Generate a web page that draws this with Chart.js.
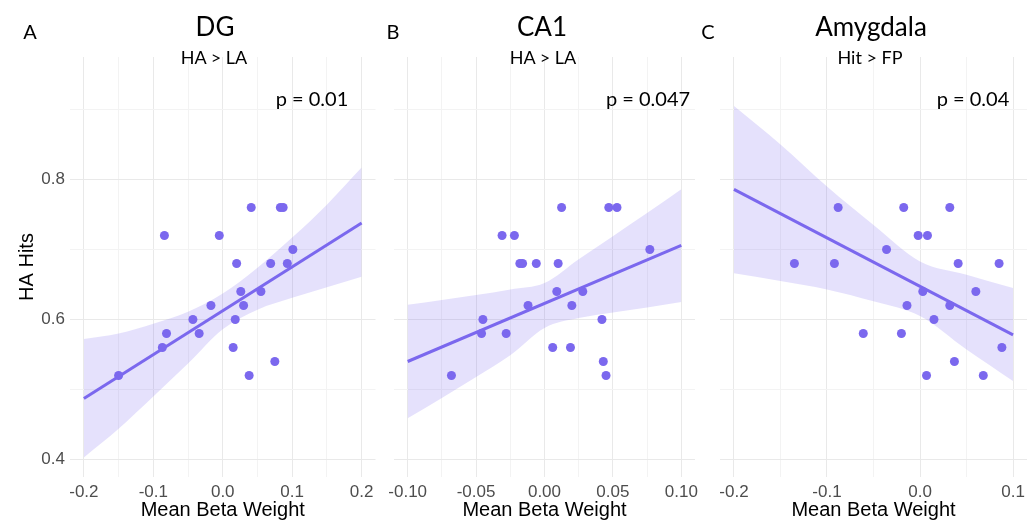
<!DOCTYPE html>
<html>
<head>
<meta charset="utf-8">
<script src="https://cdn.jsdelivr.net/npm/chart.js@4"></script>
<style>
  body { margin: 0; background: #fff; }
  #wrap { position: relative; width: 1033px; height: 529px; overflow: hidden; }
  .panel { position: absolute; top: 0; height: 529px; }
  .lbl { position: absolute; transform: translate(-50%, -50%); white-space: nowrap;
         font-family: Lato, "Open Sans", sans-serif; color: #000; }
  .big { font-size: 26px; }
  .sub { font-size: 18px; }
  .pv { font-size: 20px; }
  .tag { font-size: 20px; }
</style>
</head>
<body>
<div id="wrap">
  <div class="panel" style="left:0;width:380px"><canvas id="cA"></canvas></div>
  <div class="panel" style="left:383px;width:320px"><canvas id="cB"></canvas></div>
  <div class="panel" style="left:706px;width:327px"><canvas id="cC"></canvas></div>

  <div class="lbl tag" style="left:30px;top:31px">A</div>
  <div class="lbl big" style="left:215px;top:26px">DG</div>
  <div class="lbl sub" style="left:214px;top:57px">HA &gt; LA</div>
  <div class="lbl pv" style="left:312px;top:98px">p = 0.01</div>

  <div class="lbl tag" style="left:393px;top:31px">B</div>
  <div class="lbl big" style="left:542px;top:26px">CA1</div>
  <div class="lbl sub" style="left:543px;top:57px">HA &gt; LA</div>
  <div class="lbl pv" style="left:648px;top:98px">p = 0.047</div>

  <div class="lbl tag" style="left:708px;top:31px">C</div>
  <div class="lbl big" style="left:871px;top:26px">Amygdala</div>
  <div class="lbl sub" style="left:870px;top:57px">Hit &gt; FP</div>
  <div class="lbl pv" style="left:973px;top:98px">p = 0.04</div>
</div>

<script>
// shared y axis
var yTicks = [0.4, 0.5, 0.6, 0.7, 0.8, 0.9];
var yMajor = [0.4, 0.6, 0.8];
var yLabels = ['0.4', '0.6', '0.8'];

// DG (HA > LA)
var xA = [-0.150, -0.084, -0.087, -0.081, -0.043, -0.034, -0.017, -0.005, 0.018, 0.015, 0.020, 0.026,
          0.030, 0.041, 0.038, 0.055, 0.069, 0.075, 0.083, 0.087, 0.093, 0.101];
var yA = [0.52, 0.72, 0.56, 0.58, 0.60, 0.58, 0.62, 0.72, 0.60, 0.56, 0.68, 0.64,
          0.62, 0.76, 0.52, 0.64, 0.68, 0.54, 0.76, 0.76, 0.68, 0.70];
var fitXA = [-0.2, 0.2];
var fitYA = [0.487, 0.738];
var bandXA = [-0.2, -0.15, -0.1, -0.05, 0, 0.05, 0.1, 0.15, 0.2];
var bandHiA = [0.572, 0.580, 0.594, 0.611, 0.637, 0.674, 0.717, 0.764, 0.817];
var bandLoA = [0.403, 0.444, 0.490, 0.537, 0.586, 0.614, 0.631, 0.646, 0.661];
var xTicksA = [-0.2, -0.15, -0.1, -0.05, 0, 0.05, 0.1, 0.15, 0.2];
var xMajorA = [-0.2, -0.1, 0, 0.1, 0.2];
var xLabelsA = ['-0.2', '-0.1', '0.0', '0.1', '0.2'];

// CA1 (HA > LA)
var xB = [-0.068, -0.045, -0.046, -0.028, -0.031, -0.022, -0.018, -0.016, -0.006, -0.012, 0.006, 0.009,
          0.010, 0.0125, 0.019, 0.020, 0.028, 0.042, 0.043, 0.045, 0.047, 0.053, 0.077];
var yB = [0.52, 0.60, 0.58, 0.58, 0.72, 0.72, 0.68, 0.68, 0.68, 0.62, 0.56, 0.64,
          0.68, 0.76, 0.56, 0.62, 0.64, 0.60, 0.54, 0.52, 0.76, 0.76, 0.70];
var fitXB = [-0.1, 0.1];
var fitYB = [0.540, 0.706];
var bandXB = [-0.1, -0.075, -0.05, -0.025, 0, 0.025, 0.05, 0.075, 0.1];
var bandHiB = [0.621, 0.628, 0.635, 0.643, 0.652, 0.686, 0.719, 0.752, 0.786];
var bandLoB = [0.459, 0.488, 0.518, 0.549, 0.588, 0.602, 0.610, 0.617, 0.625];
var xTicksB = [-0.1, -0.075, -0.05, -0.025, 0, 0.025, 0.05, 0.075, 0.1];
var xMajorB = [-0.1, -0.05, 0, 0.05, 0.1];
var xLabelsB = ['-0.10', '-0.05', '0.00', '0.05', '0.10'];

// Amygdala (Hit > FP)
var xC = [-0.135, -0.092, -0.088, -0.061, -0.036, -0.020, -0.0175, -0.014, -0.002, 0.008, 0.003,
          0.007, 0.015, 0.032, 0.032, 0.037, 0.041, 0.060, 0.068, 0.085, 0.088];
var yC = [0.68, 0.68, 0.76, 0.58, 0.70, 0.58, 0.76, 0.62, 0.72, 0.72, 0.64,
          0.52, 0.60, 0.76, 0.62, 0.54, 0.68, 0.64, 0.52, 0.68, 0.56];
var fitXC = [-0.2, 0.1];
var fitYC = [0.786, 0.578];
var bandXC = [-0.2, -0.15, -0.1, -0.05, 0, 0.05, 0.1];
var bandHiC = [0.905, 0.850, 0.790, 0.735, 0.683, 0.664, 0.645];
var bandLoC = [0.666, 0.655, 0.643, 0.626, 0.605, 0.557, 0.512];
var xTicksC = [-0.2, -0.15, -0.1, -0.05, 0, 0.05, 0.1];
var xMajorC = [-0.2, -0.1, 0, 0.1];
var xLabelsC = ['-0.2', '-0.1', '0.0', '0.1'];

var purple = 'rgb(123, 104, 238)';
var bandFill = 'rgba(123, 104, 238, 0.2)';
var gridMajor = '#e9e9e9';
var gridMinor = '#f3f3f3';

function pts(xs, ys) {
  return xs.map(function(x, i) { return { x: x, y: ys[i] }; });
}

function makeChart(id, p) {
  var ctx = document.getElementById(id).getContext('2d');
  new Chart(ctx, {
    type: 'scatter',
    data: {
      datasets: [{
        data: pts(p.x, p.y),
        backgroundColor: purple,
        borderWidth: 0,
        pointRadius: 4.5,
        order: 0
      }, {
        type: 'line',
        data: pts(p.fitX, p.fitY),
        borderColor: purple,
        borderWidth: 3,
        pointRadius: 0,
        fill: false,
        order: 1
      }, {
        type: 'line',
        data: pts(p.bandX, p.bandHi),
        borderWidth: 0,
        borderColor: 'transparent',
        backgroundColor: bandFill,
        pointRadius: 0,
        cubicInterpolationMode: 'monotone',
        fill: '+1',
        order: 2
      }, {
        type: 'line',
        data: pts(p.bandX, p.bandLo),
        borderWidth: 0,
        borderColor: 'transparent',
        pointRadius: 0,
        cubicInterpolationMode: 'monotone',
        fill: false,
        order: 3
      }]
    },
    options: {
      responsive: true,
      maintainAspectRatio: false,
      animation: false,
      layout: { padding: { top: 57, right: p.padRight, left: p.padLeft, bottom: 0 } },
      plugins: { legend: { display: false }, tooltip: { enabled: false } },
      scales: {
        x: {
          type: 'linear',
          min: p.xMin,
          max: p.xMax,
          border: { display: false },
          afterBuildTicks: function(scale) {
            scale.ticks = p.xTicks.map(function(v) { return { value: v }; });
          },
          afterFit: function(scale) { scale.height = 52; },
          grid: {
            drawTicks: false,
            color: function(c) {
              return c.tick && p.xMajor.indexOf(c.tick.value) >= 0 ? gridMajor : gridMinor;
            }
          },
          ticks: {
            autoSkip: false,
            maxRotation: 0,
            padding: 5,
            color: '#4d4d4d',
            font: { family: 'Liberation Sans', size: 17 },
            callback: function(v) {
              var i = p.xMajor.indexOf(v);
              return i >= 0 ? p.xLabels[i] : '';
            }
          },
          title: {
            display: true,
            text: 'Mean Beta Weight',
            color: '#000',
            font: { family: 'Liberation Sans', size: 20 },
            padding: { top: 0, bottom: 7 }
          }
        },
        y: {
          type: 'linear',
          min: 0.375,
          max: 0.975,
          border: { display: false },
          afterBuildTicks: function(scale) {
            scale.ticks = yTicks.map(function(v) { return { value: v }; });
          },
          afterFit: function(scale) { scale.width = p.yWidth; },
          grid: {
            drawTicks: false,
            color: function(c) {
              return c.tick && yMajor.indexOf(c.tick.value) >= 0 ? gridMajor : gridMinor;
            }
          },
          ticks: {
            display: p.yLabels,
            autoSkip: false,
            padding: 5,
            color: '#4d4d4d',
            font: { family: 'Liberation Sans', size: 17 },
            callback: function(v) {
              var i = yMajor.indexOf(v);
              return i >= 0 ? yLabels[i] : '';
            }
          },
          title: {
            display: p.yLabels,
            text: 'HA Hits',
            color: '#000',
            font: { family: 'Liberation Sans', size: 20 },
            padding: { top: 15, bottom: 0 }
          }
        }
      }
    }
  });
}

makeChart('cA', {
  x: xA, y: yA, fitX: fitXA, fitY: fitYA, bandX: bandXA, bandHi: bandHiA, bandLo: bandLoA,
  xTicks: xTicksA, xMajor: xMajorA, xLabels: xLabelsA, xMin: -0.22, xMax: 0.22,
  yLabels: true, yWidth: 70, padLeft: 0, padRight: 2
});
makeChart('cB', {
  x: xB, y: yB, fitX: fitXB, fitY: fitYB, bandX: bandXB, bandHi: bandHiB, bandLo: bandLoB,
  xTicks: xTicksB, xMajor: xMajorB, xLabels: xLabelsB, xMin: -0.11, xMax: 0.11,
  yLabels: false, yWidth: 0, padLeft: 10, padRight: 3
});
makeChart('cC', {
  x: xC, y: yC, fitX: fitXC, fitY: fitYC, bandX: bandXC, bandHi: bandHiC, bandLo: bandLoC,
  xTicks: xTicksC, xMajor: xMajorC, xLabels: xLabelsC, xMin: -0.215, xMax: 0.115,
  yLabels: false, yWidth: 0, padLeft: 14, padRight: 6
});
</script>
</body>
</html>
